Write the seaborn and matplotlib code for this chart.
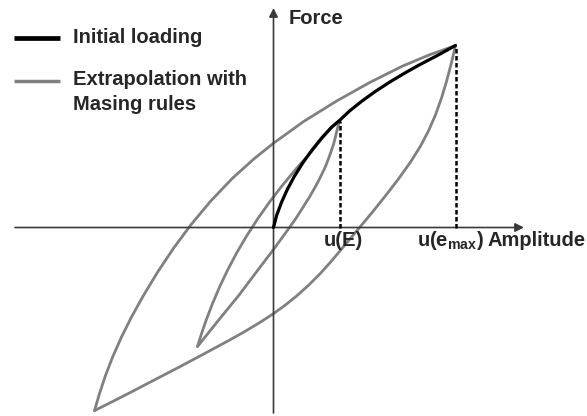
import matplotlib
matplotlib.use("Agg")
import matplotlib.pyplot as plt
import pandas as pd
import seaborn as sns

# Schematic of Masing-type hysteresis
# (amplitude u and force F in arbitrary drawing units, origin at the axes cross)

# initial loading (backbone), 0 -> e_max
backbone_u = [0, 3, 8, 14, 21, 29, 38, 48, 58, 66, 76, 88, 101, 116, 131, 146, 164, 182]
backbone_f = [0, 11.7, 25.2, 38.4, 51.4, 64.2, 76.8, 89.3, 100.3, 107, 116.5, 126.1,
              135.5, 145.3, 154.3, 162.7, 172.1, 182]

# big loop: unloading from e_max down to -e_max
big_unload_u = [182, 178, 173, 168, 162, 155, 147, 137, 125, 112, 99, 86, 76, 66, 56, 46,
                35, 23, 11, 0, -14, -29, -44, -69, -94, -119, -144, -162, -179]
big_unload_f = [182, 165, 146, 129.5, 112.7, 96.6, 81.4, 65.4, 48.6, 31.7, 15.5, -0.1,
                -12, -24, -35.8, -46.8, -57.8, -68.6, -78.2, -86.1, -95.2, -104.2,
                -112.6, -126.1, -139.4, -152.4, -165.4, -174.6, -183.1]

# big loop: reloading from -e_max back to e_max
big_reload_u = [-179, -174, -168, -161, -152, -142, -130, -116, -100, -83, -63, -41, -19,
                0, 30, 63, 96, 129, 156, 182]
big_reload_f = [-183.1, -166, -148, -129.8, -109.5, -89.5, -67.9, -44.8, -20.8, 2.2, 26.2,
                49.3, 69.1, 84.3, 105.9, 126.4, 144.9, 161.4, 172.7, 182]

# small loop: unloading from E down to -E
small_unload_u = [66, 63, 60, 56, 52, 47, 42, 36, 30, 23, 16, 8, 0, -16, -34, -56, -76]
small_unload_f = [107, 95, 83, 71.5, 61, 50.5, 41, 30.5, 21, 10, 0, -11, -22, -43, -67,
                  -94, -119]

# small loop: reloading from -E back to E
small_reload_u = [-76, -72, -67, -61, -54, -46, -37, -27, -16, -4, 9, 23, 38, 48, 58, 66]
small_reload_f = [-119, -106.2, -91.7, -76.1, -59.6, -42.8, -25.7, -8.7, 8.4, 25.4, 42.3,
                  59.1, 75.9, 88.5, 99.8, 107]

u_E, f_E = 66, 107
u_max, f_max = 182, 182

sns.set_style("white")
plt.rcParams["font.family"] = ["Liberation Sans", "DejaVu Sans"]
plt.rcParams["mathtext.fontset"] = "custom"
plt.rcParams["mathtext.bf"] = "Liberation Sans:bold"
plt.rcParams["mathtext.rm"] = "Liberation Sans:bold"

fig, ax = plt.subplots(figsize=(5.87, 4.16), dpi=100)
fig.subplots_adjust(left=0, right=1, bottom=0, top=1)

grey = "#808080"
for uu, ff in [(big_unload_u, big_unload_f), (big_reload_u, big_reload_f),
               (small_unload_u, small_unload_f), (small_reload_u, small_reload_f)]:
    d = pd.DataFrame({"u": uu, "F": ff})
    sns.lineplot(data=d, x="u", y="F", sort=False, estimator=None, color=grey,
                 lw=2.0, ax=ax)

d_bb = pd.DataFrame({"u": backbone_u, "F": backbone_f})
sns.lineplot(data=d_bb, x="u", y="F", sort=False, estimator=None, color="black",
             lw=2.3, ax=ax, zorder=5)
for ln in ax.lines:
    ln.set_solid_joinstyle("round")
    ln.set_solid_capstyle("round")

# dashed guides down to the amplitude axis
for uu, ff in [(u_E, f_E), (u_max, f_max)]:
    ax.plot([uu, uu], [0, ff], color="black", lw=1.8, ls=(0, (1.8, 1)), zorder=4)

# axes with arrows
arrow = dict(arrowstyle="-|>", color="#3a3a3a", lw=1.2, mutation_scale=13,
             shrinkA=0, shrinkB=0)
ax.annotate("", xy=(250.5, 0), xytext=(-258.5, 0), arrowprops=arrow)
ax.annotate("", xy=(0, 219.5), xytext=(0, -185.5), arrowprops=arrow)

ax.set_xlim(-273.5, 313.5)
ax.set_ylim(-188.5, 227.5)
ax.axis("off")

fs = 14.5
ax.text(0.4923, 0.9423, "Force", transform=ax.transAxes, fontsize=fs,
        fontweight="bold", ha="left", va="baseline")
ax.text(0.5843, 0.4087, "u(E)", transform=ax.transAxes, fontsize=fs,
        fontweight="bold", ha="center", va="baseline")
ax.text(0.7104, 0.4087, r"u(e$_{\mathbf{max}}$)", transform=ax.transAxes, fontsize=fs,
        fontweight="bold", ha="left", va="baseline")
ax.text(0.8313, 0.4087, "Amplitude", transform=ax.transAxes, fontsize=fs,
        fontweight="bold", ha="left", va="baseline")

# legend drawn by hand so the grey key sits on the first text line
ax.plot([0.0239, 0.1022], [0.9087, 0.9087], transform=ax.transAxes,
        color="black", lw=3.4, solid_capstyle="butt")
ax.plot([0.0239, 0.1022], [0.8053, 0.8053], transform=ax.transAxes,
        color=grey, lw=2.5, solid_capstyle="butt")
ax.text(0.1244, 0.8978, "Initial loading", transform=ax.transAxes, fontsize=fs,
        fontweight="bold", va="baseline")
ax.text(0.1244, 0.7957, "Extrapolation with", transform=ax.transAxes, fontsize=fs,
        fontweight="bold", va="baseline")
ax.text(0.1244, 0.7356, "Masing rules", transform=ax.transAxes, fontsize=fs,
        fontweight="bold", va="baseline")

fig.savefig("out.png", dpi=100)
